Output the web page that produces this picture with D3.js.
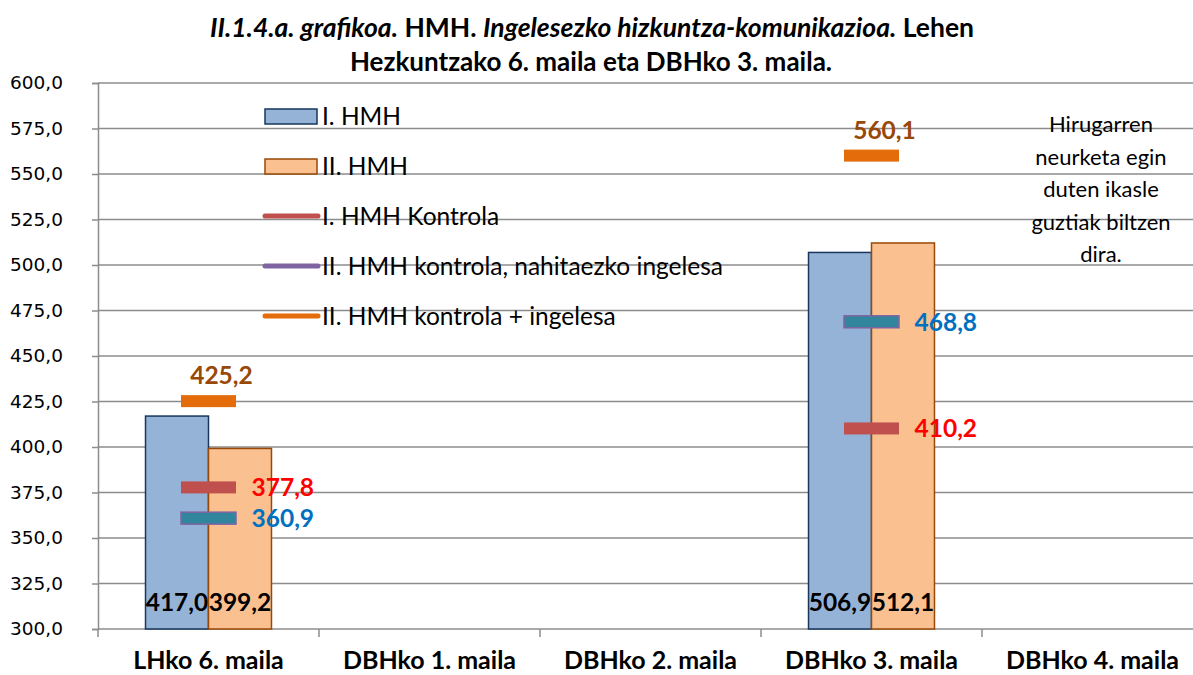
<!DOCTYPE html>
<html><head><meta charset="utf-8">
<script src="https://cdnjs.cloudflare.com/ajax/libs/d3/7.8.5/d3.min.js"></script>
<style>body{margin:0;background:#fff}svg{display:block}</style>
</head><body>
<svg id="c" width="1193" height="675"></svg>
<script>
const categories = ["LHko 6. maila","DBHko 1. maila","DBHko 2. maila","DBHko 3. maila","DBHko 4. maila"];
const hmh1 = [417.0, null, null, 506.9, null];
const hmh2 = [399.2, null, null, 512.1, null];
const kontrola1 = [377.8, null, null, 410.2, null];
const kontrola2Nahitaezko = [360.9, null, null, 468.8, null];
const kontrola2Ingelesa = [425.2, null, null, 560.1, null];
const yTicks = [300,325,350,375,400,425,450,475,500,525,550,575,600];
const seriesNames = ["I. HMH","II. HMH","I. HMH Kontrola","II. HMH kontrola, nahitaezko ingelesa","II. HMH kontrola + ingelesa"];
const note = ["Hirugarren","neurketa egin","duten ikasle","guztiak biltzen","dira."];

const F = "Lato, 'Open Sans', sans-serif";
const svg = d3.select("#c");
const x0 = 98, x1 = 1203, yTop = 83, yBot = 629;
const x = d3.scaleBand().domain(categories).range([x0, x1]);
const y = d3.scaleLinear().domain([300, 600]).range([yBot, yTop]);
const groupW = x.bandwidth() * 0.57;
const xs = d3.scaleBand().domain(["a","b"]).range([0, groupW]);

// gridlines
svg.append("g").selectAll("line").data(yTicks.filter(d => d > 300)).join("line")
  .attr("x1", x0).attr("x2", 1193).attr("y1", d => y(d)).attr("y2", d => y(d))
  .attr("stroke", "#8c8c8c").attr("stroke-width", 1.5);

// y axis
const yAxis = d3.axisLeft(y).tickValues(yTicks).tickSize(6).tickPadding(30)
  .tickFormat(d => d3.format(".1f")(d).replace(".", ","));
const gy = svg.append("g").attr("transform", `translate(${x0},0)`).call(yAxis);
gy.select(".domain").attr("stroke", "#8c8c8c").attr("stroke-width", 1.5);
gy.selectAll(".tick line").attr("stroke", "#8c8c8c").attr("stroke-width", 1.5);
gy.selectAll("text").attr("font-family", "'DejaVu Sans', sans-serif").attr("font-size", 18.5)
  .attr("fill", "#000").attr("text-anchor", "end").attr("x", -35);

// x axis line + ticks at category boundaries
const bounds = categories.map(c => x(c)).concat([x1]);
svg.append("line").attr("x1", x0).attr("x2", 1193).attr("y1", yBot).attr("y2", yBot)
  .attr("stroke", "#8c8c8c").attr("stroke-width", 1.5);
svg.append("g").selectAll("line").data(bounds).join("line")
  .attr("x1", d => d).attr("x2", d => d).attr("y1", yBot).attr("y2", yBot + 8)
  .attr("stroke", "#8c8c8c").attr("stroke-width", 1.5);
svg.append("g").selectAll("text").data(categories).join("text")
  .attr("x", d => x(d) + x.bandwidth() / 2).attr("y", 669)
  .attr("text-anchor", "middle").attr("font-family", F).attr("font-weight", "bold")
  .attr("font-size", 25).text(d => d);

// bars
function bars(vals, key, fill, stroke) {
  const data = categories.map((c, i) => ({c, v: vals[i]})).filter(d => d.v != null);
  svg.append("g").selectAll("rect").data(data).join("rect")
    .attr("x", d => x(d.c) + (x.bandwidth() - groupW) / 2 + xs(key))
    .attr("width", xs.bandwidth())
    .attr("y", d => y(d.v)).attr("height", d => yBot - y(d.v))
    .attr("fill", fill).attr("stroke", stroke).attr("stroke-width", 1.5);
  svg.append("g").selectAll("text").data(data).join("text")
    .attr("x", d => x(d.c) + (x.bandwidth() - groupW) / 2 + xs(key) + xs.bandwidth() / 2)
    .attr("y", 611).attr("text-anchor", "middle").attr("font-family", F)
    .attr("font-weight", "bold").attr("font-size", 24.5).attr("fill", "#000")
    .text(d => d3.format(".1f")(d.v).replace(".", ","));
}
bars(hmh1, "a", "#95b3d7", "#17375e");
bars(hmh2, "b", "#fac090", "#984807");

// markers
const mW = 55, mH = 12;
function markers(vals, fill, stroke, labelColor, pos) {
  const data = categories.map((c, i) => ({c, v: vals[i]})).filter(d => d.v != null);
  svg.append("g").selectAll("rect").data(data).join("rect")
    .attr("x", d => x(d.c) + x.bandwidth() / 2 - mW / 2).attr("width", mW)
    .attr("y", d => y(d.v) - mH / 2).attr("height", mH)
    .attr("fill", fill).attr("stroke", stroke || "none").attr("stroke-width", 1.5);
  const t = svg.append("g").selectAll("text").data(data).join("text")
    .attr("font-family", F).attr("font-weight", "bold").attr("font-size", 24.5)
    .attr("fill", labelColor).text(d => d3.format(".1f")(d.v).replace(".", ","));
  if (pos === "above") {
    t.attr("x", d => x(d.c) + x.bandwidth() / 2 + 13).attr("y", d => y(d.v) - 17).attr("text-anchor", "middle");
  } else {
    t.attr("x", d => x(d.c) + x.bandwidth() / 2 + 43).attr("y", d => y(d.v) + 9).attr("text-anchor", "start");
  }
}
markers(kontrola1, "#c0504d", null, "#ff0000", "right");
markers(kontrola2Nahitaezko, "#31859c", "#8064a2", "#0070c0", "right");
markers(kontrola2Ingelesa, "#e46c0a", null, "#984807", "above");

// legend
const lg = svg.append("g");
const legY = [117, 167, 217, 267, 317];
seriesNames.forEach((n, i) => {
  const yy = legY[i];
  if (i === 0) lg.append("rect").attr("x", 265).attr("y", yy - 8).attr("width", 52).attr("height", 15).attr("fill", "#95b3d7").attr("stroke", "#17375e").attr("stroke-width", 1.5);
  else if (i === 1) lg.append("rect").attr("x", 265).attr("y", yy - 8).attr("width", 52).attr("height", 15).attr("fill", "#fac090").attr("stroke", "#984807").attr("stroke-width", 1.5);
  else {
    const col = ["#c0504d", "#8064a2", "#e46c0a"][i - 2];
    lg.append("line").attr("x1", 265).attr("x2", 318).attr("y1", yy - 1).attr("y2", yy - 1)
      .attr("stroke", col).attr("stroke-width", 5).attr("stroke-linecap", "round");
  }
  lg.append("text").attr("x", 322).attr("y", yy + 8).attr("font-family", F).attr("font-size", 24.5)
    .attr("fill", "#000").text(n);
});

// note
svg.append("g").selectAll("text").data(note).join("text")
  .attr("x", 1101).attr("y", (d, i) => 132 + i * 32.5).attr("text-anchor", "middle")
  .attr("font-family", F).attr("font-size", 22).attr("fill", "#000").text(d => d);

// title
const t1 = svg.append("text").attr("x", 592).attr("y", 37).attr("text-anchor", "middle")
  .attr("font-family", F).attr("font-weight", "bold").attr("font-size", 26.5).attr("fill", "#000");
[["II.1.4.a. grafikoa.", true], [" HMH. ", false], ["Ingelesezko hizkuntza-komunikazioa.", true], [" Lehen", false]]
  .forEach(([s, it]) => t1.append("tspan").attr("font-style", it ? "italic" : "normal").text(s));
svg.append("text").attr("x", 591).attr("y", 71).attr("text-anchor", "middle")
  .attr("font-family", F).attr("font-weight", "bold").attr("font-size", 26).attr("fill", "#000")
  .text("Hezkuntzako 6. maila eta DBHko 3. maila.");
</script>
</body></html>
